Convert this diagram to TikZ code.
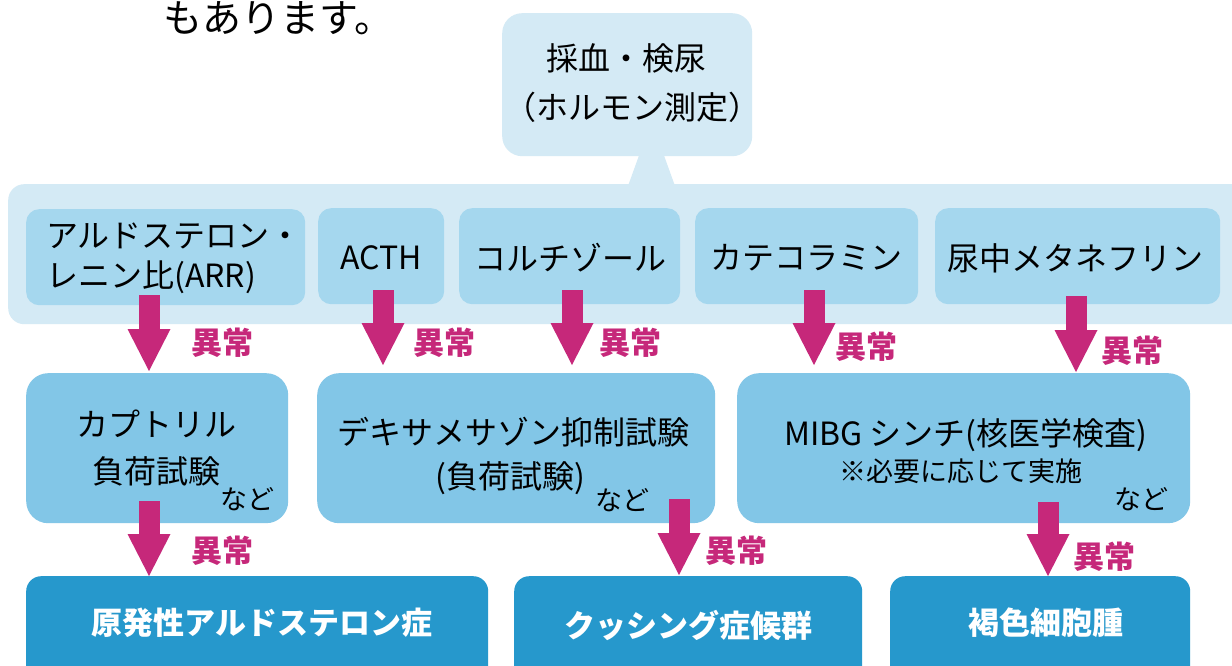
\documentclass[tikz,border=0pt]{standalone}
\usepackage{fontspec}
\setmainfont{Noto Sans CJK JP}
\usetikzlibrary{arrows.meta}
\definecolor{bandc}{HTML}{D4EAF5}
\definecolor{innerc}{HTML}{A5D7EE}
\definecolor{midc}{HTML}{82C6E7}
\definecolor{botc}{HTML}{2698CC}
\definecolor{magc}{HTML}{C6287A}
\begin{document}
\begin{tikzpicture}[x=1pt,y=-1pt,
  panel/.style={anchor=north west, inner sep=0pt, draw=none},
  topbox/.style={panel, fill=bandc, rounded corners=20pt},
  bandbox/.style={panel, fill=bandc, rounded corners=16pt},
  innerbox/.style={panel, fill=innerc, rounded corners=13pt, minimum height=96pt},
  midbox/.style={panel, fill=midc, rounded corners=22pt, minimum height=150pt},
  botbox/.style={panel, fill=botc, rounded corners=15pt, minimum height=120pt},
  txt/.style={inner sep=0pt, text=black, font=\fontsize{32}{40}\selectfont},
  small/.style={inner sep=0pt, text=black, font=\fontsize{27}{30}\selectfont},
  ijo/.style={inner sep=0pt, text=magc, font=\fontsize{31}{36}\selectfont\bfseries},
  dis/.style={inner sep=0pt, text=white, font=\fontsize{31}{36}\selectfont\bfseries},
  barrow/.style={draw=magc, line width=21pt, -{Triangle[width=43pt,length=42pt,line width=0pt]}}
]
\clip (0,0) rectangle (1232,666);
\fill[white] (0,0) rectangle (1232,666);

% intro text
\node[inner sep=0pt, anchor=west, font=\fontsize{39}{44}\selectfont] (intro) at (163,18) {もあります。};

% top box
\node[topbox, minimum width=250pt, minimum height=143pt] (top) at (502,13) {};
\node[txt] (toptxt1) at (626,58) {採血・検尿};
\node[txt] (toptxt2) at (632,107) {（ホルモン測定）};

% band
\node[bandbox, minimum width=1240pt, minimum height=140pt] (band) at (8,184) {};
\fill[bandc] (628,186) -- (641,150) -- (662,150) -- (675,186) -- cycle;

% inner boxes
\node[innerbox, minimum width=279pt] (in1) at (26,209) {};
\node[innerbox, minimum width=126pt] (in2) at (318,208) {};
\node[innerbox, minimum width=221pt] (in3) at (459,208) {};
\node[innerbox, minimum width=223pt] (in4) at (695,208) {};
\node[innerbox, minimum width=285pt] (in5) at (935,208) {};
\node[txt, align=left, anchor=west] (in1t) at (46,258) {アルドステロン・\\レニン比(ARR)};
\node[txt] (in2t) at (381,258) {ACTH};
\node[txt] (in3t) at (570,258) {コルチゾール};
\node[txt] (in4t) at (806,258) {カテコラミン};
\node[txt] (in5t) at (1075,258) {尿中メタネフリン};

% middle boxes
\node[midbox, minimum width=262pt] (m1) at (26,373) {};
\node[midbox, minimum width=398pt] (m2) at (317,373) {};
\node[midbox, minimum width=453pt] (m3) at (737,373) {};
\node[txt] (m1a) at (156,424) {カプトリル};
\node[txt] (m1b) at (156,471) {負荷試験};
\node[small] (m1c) at (247,499) {など};
\node[txt] (m2a) at (513,432) {デキサメサゾン抑制試験};
\node[txt] (m2b) at (510,478) {(負荷試験)};
\node[small] (m2c) at (622,500) {など};
\node[txt] (m3a) at (966,435) {MIBG シンチ(核医学検査)};
\node[small] (m3b) at (961,471) {※必要に応じて実施};
\node[small] (m3c) at (1141,499) {など};

% bottom boxes
\node[botbox, minimum width=462pt] (b1) at (26,576) {};
\node[botbox, minimum width=348pt] (b2) at (514,576) {};
\node[botbox, minimum width=300pt] (b3) at (890,576) {};
\node[dis] (b1t) at (262,623) {原発性アルドステロン症};
\node[dis] (b2t) at (688,625) {クッシング症候群};
\node[dis] (b3t) at (1046,623) {褐色細胞腫};

% arrows row 1
\coordinate (s1) at (149,295);
\coordinate (s2) at (383,290);
\coordinate (s3) at (572,290);
\coordinate (s4) at (814,290);
\coordinate (s5) at (1076,296);
\draw[barrow, shorten >=2pt] (s1) -- (s1 |- m1.north);
\draw[barrow, shorten >=8pt] (s2) -- (s2 |- m2.north);
\draw[barrow, shorten >=8pt] (s3) -- (s3 |- m2.north);
\draw[barrow, shorten >=8pt] (s4) -- (s4 |- m3.north);
\draw[barrow, shorten >=1pt] (s5) -- (s5 |- m3.north);

% arrows row 2
\coordinate (t1) at (149,501);
\coordinate (t2) at (679,499);
\coordinate (t3) at (1048,502);
\draw[barrow] (t1) -- (t1 |- b1.north);
\draw[barrow, shorten >=1pt] (t2) -- (t2 |- b2.north);
\draw[barrow] (t3) -- (t3 |- b3.north);

% labels
\node[ijo] (l1) at (222,343) {異常};
\node[ijo] (l2) at (444,343) {異常};
\node[ijo] (l3) at (630,343) {異常};
\node[ijo] (l4) at (866,347) {異常};
\node[ijo] (l5) at (1132,351) {異常};
\node[ijo] (l6) at (222,551) {異常};
\node[ijo] (l7) at (736,551) {異常};
\node[ijo] (l8) at (1104,557) {異常};
\end{tikzpicture}
\end{document}
